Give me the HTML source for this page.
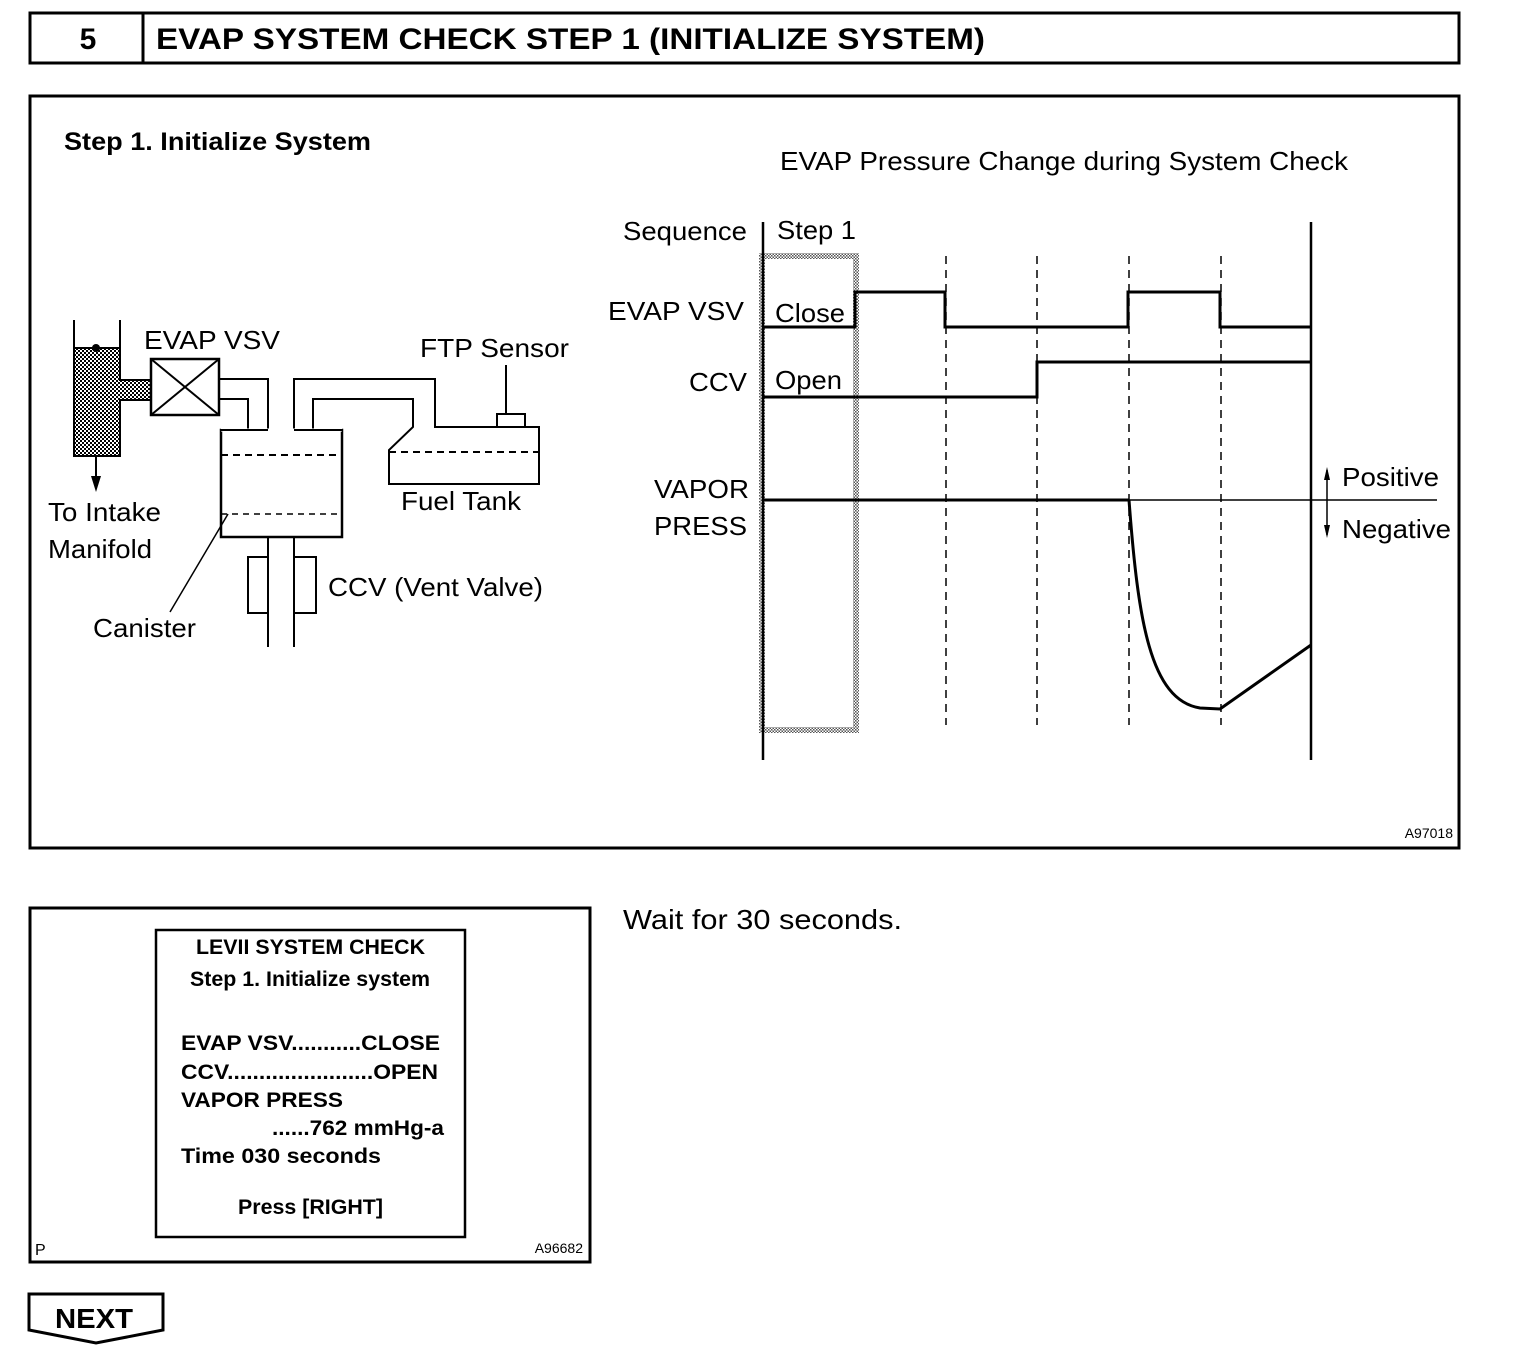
<!DOCTYPE html>
<html><head><meta charset="utf-8"><style>
html,body{margin:0;padding:0;background:#fff}
svg{display:block}
text{font-family:"Liberation Sans",Arial,sans-serif;fill:#000}
</style></head><body>
<svg width="1536" height="1372" viewBox="0 0 1536 1372" xmlns="http://www.w3.org/2000/svg">
<defs>
<pattern id="hatch" width="4" height="4" patternUnits="userSpaceOnUse">
<rect width="4" height="4" fill="#fff"/><rect width="2" height="2" fill="#000"/><rect x="2" y="2" width="2" height="2" fill="#000"/>
</pattern>
<pattern id="hatch2" width="3" height="3" patternUnits="userSpaceOnUse">
<rect width="3" height="3" fill="#fff"/><rect width="1.5" height="1.5" fill="#555"/><rect x="1.5" y="1.5" width="1.5" height="1.5" fill="#555"/>
</pattern>
</defs>
<!-- header -->
<rect x="30" y="13" width="1429" height="50" fill="none" stroke="#000" stroke-width="3"/>
<line x1="143" y1="13" x2="143" y2="63" stroke="#000" stroke-width="3"/>
<text x="88" y="49" font-size="30" font-weight="bold" text-anchor="middle">5</text>
<text x="156" y="49" font-size="30" font-weight="bold" textLength="829" lengthAdjust="spacingAndGlyphs">EVAP SYSTEM CHECK STEP 1 (INITIALIZE SYSTEM)</text>
<!-- main frame -->
<rect x="30" y="96" width="1429" height="752" fill="none" stroke="#000" stroke-width="3"/>
<text x="64" y="150" font-size="25" font-weight="bold" textLength="307" lengthAdjust="spacingAndGlyphs">Step 1. Initialize System</text>
<text x="780" y="170" font-size="26" textLength="568" lengthAdjust="spacingAndGlyphs">EVAP Pressure Change during System Check</text>
<text x="1453" y="838" font-size="14" text-anchor="end">A97018</text>

<!-- left schematic -->
<g stroke="#000" stroke-width="2" fill="none">
<rect x="74" y="348" width="46" height="108" fill="url(#hatch)" stroke="none"/>
<rect x="120" y="380" width="31" height="20" fill="url(#hatch)" stroke="none"/>
<path d="M74 320 V456 H120 V400 H151 M151 380 H120 V320"/>
<line x1="74" y1="348" x2="120" y2="348"/>
<rect x="151" y="359" width="68" height="56" stroke-width="2.5"/>
<path d="M151 359 L219 415 M219 359 L151 415"/>
<path d="M219 379 H268 V430 M219 399 H248 V430" />
<path d="M294 430 V379 H435 V427 H539 V484 H389 V450 L413 427 V399 H313 V430"/>
<rect x="221" y="430" width="121" height="107" stroke-width="2.5"/>
<line x1="221" y1="430" x2="342" y2="430" stroke="#fff" stroke-width="3"/>
<path d="M221 430 H268 M294 430 H313"/>
<path d="M313 430 H342" />
<line x1="221" y1="455" x2="342" y2="455" stroke-dasharray="7,5"/>
<line x1="221" y1="514" x2="342" y2="514" stroke-dasharray="6,5" stroke-width="1.5"/>
<line x1="389" y1="452" x2="539" y2="452" stroke-dasharray="7,5"/>
<rect x="497" y="414" width="28" height="13"/>
<line x1="506" y1="365" x2="506" y2="414"/>
<path d="M268 537 V647 M294 537 V647"/>
<path d="M268 557 H248 V613 H268 M294 557 H316 V613 H294"/>
<line x1="228" y1="514" x2="170" y2="612" stroke-width="1.5"/>
<line x1="96" y1="456" x2="96" y2="478"/>
</g>
<circle cx="96" cy="348" r="4" fill="#000"/>
<polygon points="91,476 101,476 96,492" fill="#000"/>
<g font-size="26">
<text x="144" y="349" textLength="136" lengthAdjust="spacingAndGlyphs">EVAP VSV</text>
<text x="420" y="357" textLength="149" lengthAdjust="spacingAndGlyphs">FTP Sensor</text>
<text x="401" y="510" textLength="120" lengthAdjust="spacingAndGlyphs">Fuel Tank</text>
<text x="48" y="521" textLength="113" lengthAdjust="spacingAndGlyphs">To Intake</text>
<text x="48" y="558" textLength="104" lengthAdjust="spacingAndGlyphs">Manifold</text>
<text x="93" y="637" textLength="103" lengthAdjust="spacingAndGlyphs">Canister</text>
<text x="328" y="596" textLength="215" lengthAdjust="spacingAndGlyphs">CCV (Vent Valve)</text>
</g>

<!-- chart -->
<rect x="762" y="256" width="94" height="474" fill="none" stroke="url(#hatch2)" stroke-width="6"/>
<g stroke="#000" fill="none">
<line x1="763" y1="222" x2="763" y2="760" stroke-width="2.5"/>
<line x1="1311" y1="222" x2="1311" y2="760" stroke-width="2.5"/>
<g stroke-width="1.5" stroke-dasharray="8,6">
<line x1="946" y1="256" x2="946" y2="725"/>
<line x1="1037" y1="256" x2="1037" y2="725"/>
<line x1="1129" y1="256" x2="1129" y2="725"/>
<line x1="1221" y1="256" x2="1221" y2="725"/>
</g>
<path d="M763 327 H855 V292 H945 V327 H1128 V292 H1220 V327 H1311" stroke-width="3"/>
<path d="M763 397 H1037 V362 H1311" stroke-width="3"/>
<line x1="763" y1="500" x2="1129" y2="500" stroke-width="3"/>
<line x1="1129" y1="500" x2="1437" y2="500" stroke-width="1.5"/>
<path d="M1129 500 C1138 620 1150 700 1200 708 L1220 709 L1311 645" stroke-width="3"/>
<line x1="1327" y1="470" x2="1327" y2="535" stroke-width="1.5"/>
</g>
<polygon points="1324,480 1330,480 1327,467" fill="#000"/>
<polygon points="1324,525 1330,525 1327,538" fill="#000"/>
<g font-size="26">
<text x="623" y="240" textLength="124" lengthAdjust="spacingAndGlyphs">Sequence</text>
<text x="777" y="239" textLength="79" lengthAdjust="spacingAndGlyphs">Step 1</text>
<text x="608" y="320" textLength="136" lengthAdjust="spacingAndGlyphs">EVAP VSV</text>
<text x="775" y="322" textLength="70" lengthAdjust="spacingAndGlyphs">Close</text>
<text x="689" y="391" textLength="58" lengthAdjust="spacingAndGlyphs">CCV</text>
<text x="775" y="389" textLength="67" lengthAdjust="spacingAndGlyphs">Open</text>
<text x="654" y="498" textLength="95" lengthAdjust="spacingAndGlyphs">VAPOR</text>
<text x="654" y="535" textLength="93" lengthAdjust="spacingAndGlyphs">PRESS</text>
<text x="1342" y="486" textLength="97" lengthAdjust="spacingAndGlyphs">Positive</text>
<text x="1342" y="538" textLength="109" lengthAdjust="spacingAndGlyphs">Negative</text>
</g>

<!-- bottom screen box -->
<rect x="30" y="908" width="560" height="354" fill="none" stroke="#000" stroke-width="3"/>
<rect x="156" y="930" width="309" height="307" fill="none" stroke="#000" stroke-width="2.5"/>
<g font-size="21" font-weight="bold">
<text x="196" y="954" textLength="229" lengthAdjust="spacingAndGlyphs">LEVII SYSTEM CHECK</text>
<text x="190" y="986" textLength="240" lengthAdjust="spacingAndGlyphs">Step 1. Initialize system</text>
<text x="181" y="1050" textLength="259" lengthAdjust="spacingAndGlyphs">EVAP VSV...........CLOSE</text>
<text x="181" y="1079" textLength="257" lengthAdjust="spacingAndGlyphs">CCV.......................OPEN</text>
<text x="181" y="1107" textLength="162" lengthAdjust="spacingAndGlyphs">VAPOR PRESS</text>
<text x="272" y="1135" textLength="172" lengthAdjust="spacingAndGlyphs">......762 mmHg-a</text>
<text x="181" y="1163" textLength="200" lengthAdjust="spacingAndGlyphs">Time  030 seconds</text>
<text x="238" y="1214" textLength="145" lengthAdjust="spacingAndGlyphs">Press [RIGHT]</text>
</g>
<text x="35" y="1255" font-size="16">P</text>
<text x="583" y="1253" font-size="14" text-anchor="end">A96682</text>
<text x="623" y="929" font-size="28" textLength="279" lengthAdjust="spacingAndGlyphs">Wait for 30 seconds.</text>

<!-- NEXT -->
<path d="M29 1294 H163 V1330 L96 1343 L29 1330 Z" fill="none" stroke="#000" stroke-width="3"/>
<text x="55" y="1328" font-size="28" font-weight="bold" textLength="78" lengthAdjust="spacingAndGlyphs">NEXT</text>
</svg>
</body></html>
